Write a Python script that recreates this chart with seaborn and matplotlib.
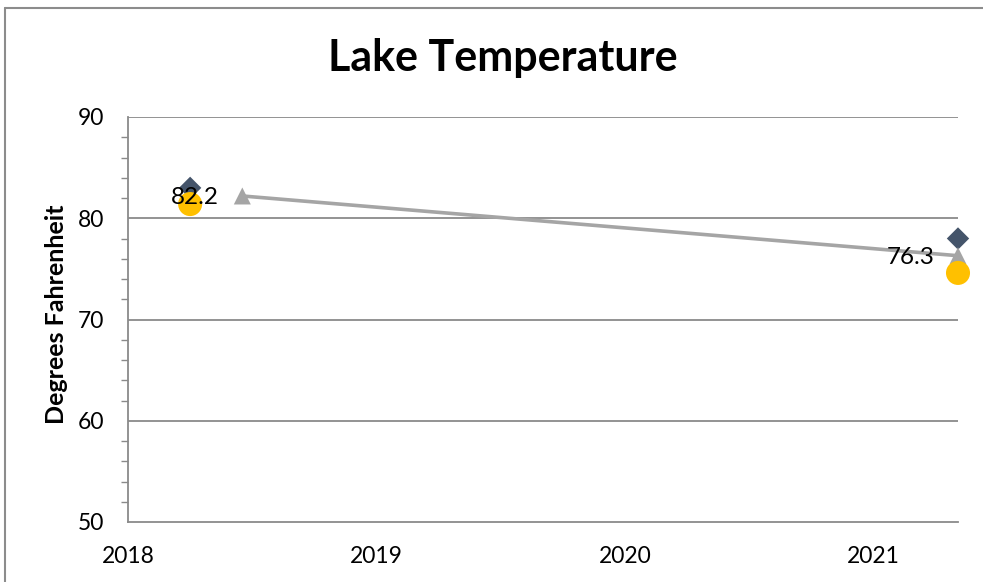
import matplotlib
matplotlib.use("Agg")
import matplotlib.pyplot as plt
from matplotlib.lines import Line2D
from matplotlib.ticker import MultipleLocator, FixedLocator, FuncFormatter
import seaborn as sns
import pandas as pd

# Lake temperature readings (decimal year, degrees Fahrenheit)
years = [2018.25, 2021.34]
avg_years = [2018.46, 2021.34]
high_temps = [83.0, 78.0]
low_temps = [81.4, 74.6]
avg_temps = [82.2, 76.3]
year_ticks = [2018, 2019, 2020, 2021]

sns.set_theme(style="white")
plt.rcParams["font.family"] = ["Lato", "DejaVu Sans"]

fig = plt.figure(figsize=(9.83, 5.82), dpi=100)
ax = fig.add_axes([128 / 983, 1 - 522 / 582, (958 - 128) / 983, (522 - 117) / 582])

df_high = pd.DataFrame({"year": years, "temp": high_temps})
df_low = pd.DataFrame({"year": years, "temp": low_temps})
df_avg = pd.DataFrame({"year": avg_years, "temp": avg_temps})

grid_c = "#8a8a8a"
for v in [60, 70, 80, 90]:
    ax.axhline(v, color=grid_c, lw=1.3, zorder=1)

sns.lineplot(data=df_avg, x="year", y="temp", ax=ax, color="#a5a5a5",
             lw=2.6, zorder=3, clip_on=False, legend=False)
sns.scatterplot(data=df_high, x="year", y="temp", ax=ax, marker="D", s=130,
                color="#44546a", edgecolor="none", zorder=4, clip_on=False, legend=False)
sns.scatterplot(data=df_avg, x="year", y="temp", ax=ax, marker="^", s=150,
                color="#a5a5a5", edgecolor="none", zorder=4, clip_on=False, legend=False)
sns.scatterplot(data=df_low, x="year", y="temp", ax=ax, marker="o", s=300,
                color="#ffc000", edgecolor="none", zorder=5, clip_on=False, legend=False)

for x, y in zip(avg_years, avg_temps):
    ax.annotate(f"{y:.1f}", (x, y), xytext=(-47, -2), textcoords="offset pixels",
                ha="center", va="center", fontsize=17.5, color="black", zorder=6)

ax.set_xlim(2018, 2021.34)
ax.set_ylim(50, 90)
ax.xaxis.set_major_locator(FixedLocator(year_ticks))
ax.xaxis.set_major_formatter(FuncFormatter(lambda v, p: f"{int(round(v))}"))
ax.yaxis.set_major_locator(MultipleLocator(10))
ax.yaxis.set_minor_locator(MultipleLocator(2))

for side in ["top", "right"]:
    ax.spines[side].set_visible(False)
for side in ["left", "bottom"]:
    ax.spines[side].set_color(grid_c)
    ax.spines[side].set_linewidth(1.3)

ax.tick_params(axis="both", which="major", direction="out", length=6, width=1.2,
               color=grid_c, labelsize=16.5, labelcolor="black")
ax.tick_params(axis="y", which="minor", direction="out", length=5, width=1.0,
               color=grid_c, left=True)
ax.tick_params(axis="x", which="major", pad=11)
ax.tick_params(axis="y", which="major", pad=11)

ax.set_xlabel("")
ax.set_ylabel("")
fig.text(57 / 983, 1 - 314 / 582, "Degrees Fahrenheit", ha="center", va="center",
         rotation=90, fontsize=18, fontweight="bold", color="black")

fig.text(503 / 983, 1 - 58 / 582, "Lake Temperature", ha="center", va="center",
         fontsize=31, fontweight="bold", color="black")

# chart frame
border_c = "#8c8c8c"
fig.add_artist(Line2D([5 / 983, 1.0], [1 - 8 / 582, 1 - 8 / 582],
                      transform=fig.transFigure, color=border_c, lw=1.5))
fig.add_artist(Line2D([5 / 983, 5 / 983], [0.0, 1 - 8 / 582],
                      transform=fig.transFigure, color=border_c, lw=1.5))

fig.savefig("out.png", dpi=100, facecolor="white")
